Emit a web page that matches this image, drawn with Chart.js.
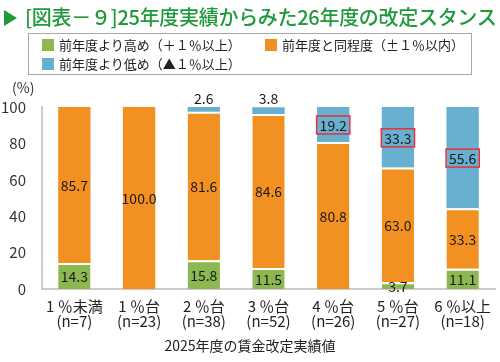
<!DOCTYPE html>
<html><head><meta charset="utf-8">
<script src="https://cdn.jsdelivr.net/npm/chart.js@4/dist/chart.umd.min.js"></script>
<style>
html,body{margin:0;padding:0;background:#fff;}
body{width:500px;height:362px;position:relative;overflow:hidden;font-family:"Noto Sans CJK JP","Noto Sans",sans-serif;}
#c{position:absolute;left:0;top:0;}
#title{position:absolute;left:4px;top:2px;font-size:20px;color:#1f9a3b;white-space:nowrap;font-weight:500;letter-spacing:-0.3px;}
#title .tri{display:inline-block;width:0;height:0;border-top:8px solid transparent;border-bottom:8px solid transparent;border-left:13px solid #1f9a3b;margin-right:8px;vertical-align:-1px;}
#legend{position:absolute;left:28px;top:33px;width:444px;height:42px;border:1px solid #a8a8a8;box-sizing:border-box;}
.li{position:absolute;font-size:13px;color:#222;white-space:nowrap;line-height:16px;}
.li i{position:absolute;left:-17px;top:2px;width:12px;height:12px;}
#xt{position:absolute;left:0;width:500px;text-align:center;top:335px;font-size:14px;color:#222;}
</style></head>
<body>
<canvas id="c" width="500" height="362"></canvas>
<div id="title"><span class="tri"></span>[図表－９]25年度実績からみた26年度の改定スタンス</div>
<div id="legend"></div>
<div id="xt">2025年度の賃金改定実績値</div>
<script>
const categories = [["1 ％未満","(n=7)"],["1 ％台","(n=23)"],["2 ％台","(n=38)"],["3 ％台","(n=52)"],["4 ％台","(n=26)"],["5 ％台","(n=27)"],["6 ％以上","(n=18)"]];
const seriesNames = ["前年度より高め（＋１％以上）","前年度と同程度（±１％以内）","前年度より低め（▲１％以上）"];
const higher = [14.3, 0, 15.8, 11.5, 0, 3.7, 11.1];
const same = [85.7, 100.0, 81.6, 84.6, 80.8, 63.0, 33.3];
const lower = [0, 0, 2.6, 3.8, 19.2, 33.3, 55.6];
const yTicks = [0, 20, 40, 60, 80, 100];
const yUnit = "(%)";
const colors = ["#8db851", "#f29122", "#67b0d0"];

// HTML legend
const lg = document.getElementById('legend');
const pos = [[30,3],[253,3],[30,22]];
seriesNames.forEach((n,i)=>{
  const d=document.createElement('div');d.className='li';
  d.style.left=pos[i][0]+'px';d.style.top=pos[i][1]+'px';
  d.innerHTML='<i style="background:'+colors[i]+'"></i>'+n;lg.appendChild(d);
});

const FONT='"Noto Sans CJK JP","Noto Sans",sans-serif';
const labelPlugin = {
  id:'vals',
  afterDraw(chart){
    const ctx=chart.ctx;
    ctx.save();
    ctx.font='14px '+FONT;
    ctx.fillStyle='#333';ctx.textAlign='left';ctx.textBaseline='middle';
    ctx.fillText(yUnit, chart.chartArea.left-30, chart.chartArea.top-19);
    ctx.fillStyle='#1a1a1a';ctx.textAlign='center';
    chart.data.datasets.forEach((ds,di)=>{
      const meta=chart.getDatasetMeta(di);
      meta.data.forEach((el,i)=>{
        const v=ds.data[i]; if(!v) return;
        const t=v.toFixed(1);
        let y=(el.y+el.base)/2;
        if(di===2 && v<5){ y=el.y-9; }
        ctx.fillText(t, el.x, y+1);
        if(di===2 && v>=10){
          const w=ctx.measureText(t).width+6;
          ctx.strokeStyle='#e8303c';ctx.lineWidth=1.5;
          ctx.strokeRect(el.x-w/2, y-8.5, w, 18);
        }
      });
    });
    ctx.restore();
  }
};

new Chart(document.getElementById('c'),{
  type:'bar',
  data:{labels:categories,datasets:[
    {label:seriesNames[0],data:higher,backgroundColor:colors[0],borderColor:'#fff',borderSkipped:false,
      borderWidth:{top:2,bottom:0,left:0,right:0}},
    {label:seriesNames[1],data:same,backgroundColor:colors[1],borderColor:'#fff',borderSkipped:false,
      borderWidth:(c)=>({top: lower[c.dataIndex]>0?2:0,bottom:0,left:0,right:0})},
    {label:seriesNames[2],data:lower,backgroundColor:colors[2],borderWidth:0}
  ]},
  options:{
    responsive:false,animation:false,
    layout:{padding:{top:107,left:0,right:5,bottom:0}},
    plugins:{legend:{display:false},tooltip:{enabled:false}},
    datasets:{bar:{barPercentage:0.5,categoryPercentage:1}},
    scales:{
      x:{stacked:true,grid:{display:false},border:{color:'#cccccc',width:2},
        afterFit(s){s.height=73;},
        ticks:{color:'#222',font:{size:15,family:FONT,lineHeight:1.0},padding:2,maxRotation:0,autoSkip:false}},
      y:{stacked:true,min:0,max:100,grid:{display:false},border:{color:'#cccccc',width:2},
        afterFit(s){s.width=42;},
        afterBuildTicks(s){s.ticks=yTicks.map(v=>({value:v}));},
        ticks:{color:'#333',font:{size:15,family:FONT},padding:8}}
    }
  },
  plugins:[labelPlugin]
});
</script>
</body></html>
